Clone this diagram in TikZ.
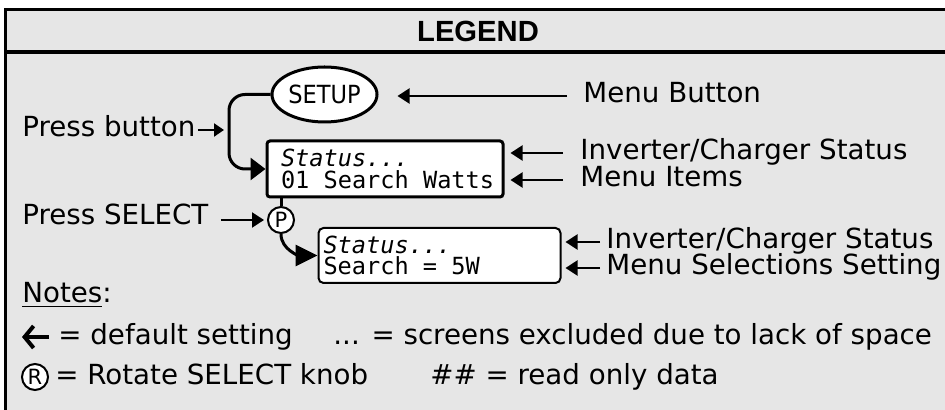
\documentclass[tikz,border=0pt]{standalone}
\usepackage{fontspec}
\setmainfont{DejaVu Sans}
\setmonofont{DejaVu Sans Mono}
\newfontfamily\titlefont{Liberation Sans}
\newfontfamily\knobfont{DejaVu Sans Condensed}
\usetikzlibrary{arrows.meta,shapes.geometric}
\definecolor{legendgray}{RGB}{230,230,230}
% one character cell of the screen font
\newcommand\cell{\hspace*{0.602em}}

\begin{document}
\begin{tikzpicture}[x=0.5pt,y=-0.5pt,
  lbl/.style={anchor=west,inner sep=0pt,text height=10pt,text depth=3pt,font=\fontsize{13.85}{16}\selectfont},
  screen/.style={draw,fill=white,align=left,inner ysep=0pt,font=\fontsize{11.8}{10.6}\ttfamily},
  knob/.style={draw,circle,fill=white,line width=1pt,minimum size=13pt,inner sep=0pt,font=\fontsize{10.5}{11}\selectfont},
  heavy/.style={line width=1.5pt},
  pointer/.style={line width=1.1pt,-{Triangle[length=6pt,width=7.5pt]}}]
\useasboundingbox (0,0) rectangle (945,410);
\clip (0,0) rectangle (945,410);
% frame and title bar
\draw [heavy,fill=legendgray] (5,10) rectangle (960,430);
\draw [line width=2pt] (5,52) -- (960,52);
\node [font=\titlefont\bfseries\fontsize{14.6}{16}\selectfont] (legend) at (478,31) {LEGEND};
% menu button and first screen
\node [draw,ellipse,fill=white,heavy,minimum width=52.5pt,minimum height=27.5pt,inner sep=0pt,
  font=\knobfont\fontsize{12.5}{14}\selectfont] (setup) at (324.5,94.5) {SETUP};
\node [screen,heavy,rounded corners=1.5pt,minimum height=28pt,text width=107pt,inner xsep=5.5pt] (screenA) at (385,169)
  {\hspace*{1.5pt}\textit{Status...}\\\hspace*{1.5pt}01\cell Search\cell Watts};
\coordinate (bend) at (229,130);
\draw [heavy,rounded corners=8pt,-{Triangle[length=7.5pt,width=11pt]}] (setup.west) -| (bend) |- (screenA.west);
% select knob and second screen
\node [knob] (pbtn) at (281,220) {P};
\node [screen,line width=1pt,rounded corners=2.5pt,minimum height=27.5pt,text width=116pt,inner xsep=2.5pt] (screenB) at (439.5,255.5)
  {\textit{Status...}\\Search\cell=\cell5W};
\draw [heavy] (screenA.south -| pbtn) -- (pbtn.north);
\draw [heavy,-{Triangle[length=11pt,width=10.5pt]}] (pbtn.south) to[out=-90,in=180] (screenB.west);
% left labels
\node [lbl] (pressbtn) at (22,130) {Press button};
\node [lbl] (presssel) at (22,218) {Press SELECT};
\draw [pointer,-{Triangle[length=5pt,width=6.5pt]},shorten <=1pt,shorten >=2.5pt] (pressbtn.east) -- (bend);
\draw [pointer,shorten <=6pt,shorten >=1.5pt] (presssel.east |- pbtn) -- (pbtn.west);
% right labels
\node [lbl] (menubtn) at (583,96) {Menu Button};
\node [lbl] (statusA) at (580,153) {Inverter/Charger Status};
\node [lbl] (itemsA) at (580,180) {Menu Items};
\node [lbl] (statusB) at (606,242) {Inverter/Charger Status};
\node [lbl] (settingB) at (606,268) {Menu Selections Setting};
\draw [pointer,shorten <=8pt,shorten >=9.5pt] (menubtn.west) -- (menubtn.west -| setup.east);
\draw [pointer,shorten <=8.5pt,shorten >=3pt] (statusA.west) -- (statusA.west -| screenA.east);
\draw [pointer,shorten <=8.5pt,shorten >=3pt] (itemsA.west) -- (itemsA.west -| screenA.east);
\draw [pointer,shorten <=3pt,shorten >=2pt] (statusB.west) -- (statusB.west -| screenB.east);
\draw [pointer,shorten <=3pt,shorten >=2pt] (settingB.west) -- (settingB.west -| screenB.east);
% notes
\node [lbl] (notes) at (22,296) {\underline{Notes}:};
\coordinate (arrtail) at (49,337);
\coordinate (arrtip) at (22,337);
\draw [line width=2pt,-{Straight Barb[length=4.5pt,width=11pt,line width=2pt]}] (arrtail) -- (arrtip);
\node [lbl] (default) at (58,337) {= default setting};
\node [lbl] (excluded) at (333,337) {... = screens excluded due to lack of space};
\node [knob] (rknob) at (35,377) {R};
\node [lbl] (rotate) at (55,377) {= Rotate SELECT knob};
\node [lbl] (readonly) at (430,377) {\#\# = read only data};
\end{tikzpicture}
\end{document}
